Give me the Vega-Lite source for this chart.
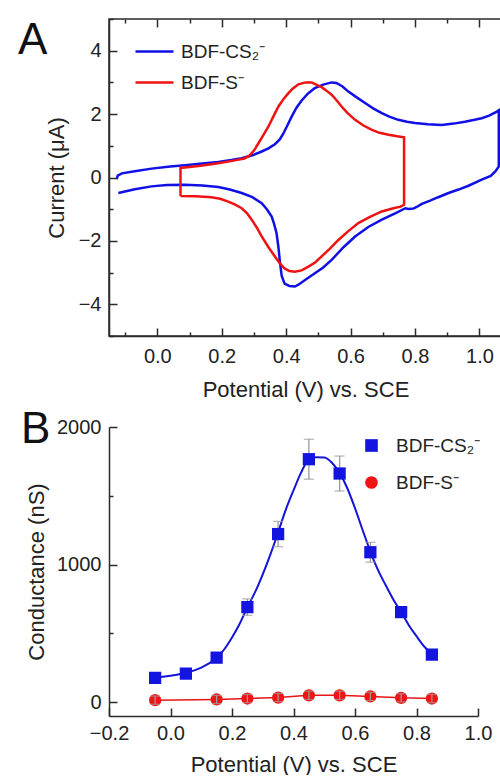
{
  "$schema": "https://vega.github.io/schema/vega-lite/v6.json",
  "background": "white",
  "padding": {"top": 8, "left": 17, "right": 0, "bottom": 0},
  "spacing": 7,
  "resolve": {"scale": {"color": "independent", "shape": "independent"}, "legend": {"color": "independent", "shape": "independent"}},
  "config": {
    "font": "Liberation Sans",
    "view": {"stroke": null},
    "axis": {
      "grid": false,
      "labelFont": "Liberation Sans", "labelFontSize": 20, "labelColor": "#222",
      "titleFont": "Liberation Sans", "titleFontSize": 22, "titleFontWeight": "normal", "titleColor": "#222",
      "domainColor": "#2b2b2b", "domainWidth": 1.5, "tickColor": "#2b2b2b", "tickWidth": 1.5,
      "labelFlush": false, "labelOverlap": false, "labelBound": false
    },
    "legend": {"labelFont": "Liberation Sans", "labelColor": "#222", "labelFontSize": 19}
  },
  "datasets": {
    "cv": [
      {"s":"BDF-CS₂⁻","i":0,"v":-0.126,"c":-0.05},{"s":"BDF-CS₂⁻","i":1,"v":-0.123,"c":0.06},{"s":"BDF-CS₂⁻","i":2,"v":-0.11,"c":0.13},{"s":"BDF-CS₂⁻","i":3,"v":-0.07,"c":0.2},{"s":"BDF-CS₂⁻","i":4,"v":-0.018,"c":0.28},{"s":"BDF-CS₂⁻","i":5,"v":0.04,"c":0.35},{"s":"BDF-CS₂⁻","i":6,"v":0.086,"c":0.39},{"s":"BDF-CS₂⁻","i":7,"v":0.14,"c":0.44},{"s":"BDF-CS₂⁻","i":8,"v":0.189,"c":0.49},{"s":"BDF-CS₂⁻","i":9,"v":0.23,"c":0.55},{"s":"BDF-CS₂⁻","i":10,"v":0.262,"c":0.61},{"s":"BDF-CS₂⁻","i":11,"v":0.295,"c":0.7},{"s":"BDF-CS₂⁻","i":12,"v":0.324,"c":0.82},{"s":"BDF-CS₂⁻","i":13,"v":0.345,"c":0.92},{"s":"BDF-CS₂⁻","i":14,"v":0.365,"c":1.05},{"s":"BDF-CS₂⁻","i":15,"v":0.38,"c":1.2},{"s":"BDF-CS₂⁻","i":16,"v":0.391,"c":1.38},{"s":"BDF-CS₂⁻","i":17,"v":0.404,"c":1.65},{"s":"BDF-CS₂⁻","i":18,"v":0.417,"c":1.92},{"s":"BDF-CS₂⁻","i":19,"v":0.432,"c":2.2},{"s":"BDF-CS₂⁻","i":20,"v":0.448,"c":2.43},{"s":"BDF-CS₂⁻","i":21,"v":0.468,"c":2.65},{"s":"BDF-CS₂⁻","i":22,"v":0.489,"c":2.82},{"s":"BDF-CS₂⁻","i":23,"v":0.515,"c":2.93},{"s":"BDF-CS₂⁻","i":24,"v":0.541,"c":3.0},{"s":"BDF-CS₂⁻","i":25,"v":0.556,"c":2.98},{"s":"BDF-CS₂⁻","i":26,"v":0.575,"c":2.87},{"s":"BDF-CS₂⁻","i":27,"v":0.593,"c":2.71},{"s":"BDF-CS₂⁻","i":28,"v":0.62,"c":2.52},{"s":"BDF-CS₂⁻","i":29,"v":0.645,"c":2.35},{"s":"BDF-CS₂⁻","i":30,"v":0.67,"c":2.18},{"s":"BDF-CS₂⁻","i":31,"v":0.697,"c":2.03},{"s":"BDF-CS₂⁻","i":32,"v":0.72,"c":1.92},{"s":"BDF-CS₂⁻","i":33,"v":0.748,"c":1.82},{"s":"BDF-CS₂⁻","i":34,"v":0.775,"c":1.76},{"s":"BDF-CS₂⁻","i":35,"v":0.8,"c":1.72},{"s":"BDF-CS₂⁻","i":36,"v":0.84,"c":1.68},{"s":"BDF-CS₂⁻","i":37,"v":0.883,"c":1.66},{"s":"BDF-CS₂⁻","i":38,"v":0.92,"c":1.7},{"s":"BDF-CS₂⁻","i":39,"v":0.955,"c":1.76},{"s":"BDF-CS₂⁻","i":40,"v":0.985,"c":1.82},{"s":"BDF-CS₂⁻","i":41,"v":1.007,"c":1.87},{"s":"BDF-CS₂⁻","i":42,"v":1.03,"c":1.95},{"s":"BDF-CS₂⁻","i":43,"v":1.054,"c":2.08},{"s":"BDF-CS₂⁻","i":44,"v":1.06,"c":2.12},{"s":"BDF-CS₂⁻","i":45,"v":1.06,"c":0.35},{"s":"BDF-CS₂⁻","i":46,"v":1.05,"c":0.2},{"s":"BDF-CS₂⁻","i":47,"v":1.035,"c":0.05},{"s":"BDF-CS₂⁻","i":48,"v":1.007,"c":-0.07},{"s":"BDF-CS₂⁻","i":49,"v":0.966,"c":-0.26},{"s":"BDF-CS₂⁻","i":50,"v":0.935,"c":-0.38},{"s":"BDF-CS₂⁻","i":51,"v":0.904,"c":-0.49},{"s":"BDF-CS₂⁻","i":52,"v":0.87,"c":-0.63},{"s":"BDF-CS₂⁻","i":53,"v":0.845,"c":-0.74},{"s":"BDF-CS₂⁻","i":54,"v":0.821,"c":-0.83},{"s":"BDF-CS₂⁻","i":55,"v":0.805,"c":-0.93},{"s":"BDF-CS₂⁻","i":56,"v":0.795,"c":-0.98},{"s":"BDF-CS₂⁻","i":57,"v":0.78,"c":-0.99},{"s":"BDF-CS₂⁻","i":58,"v":0.77,"c":-0.97},{"s":"BDF-CS₂⁻","i":59,"v":0.74,"c":-1.12},{"s":"BDF-CS₂⁻","i":60,"v":0.697,"c":-1.33},{"s":"BDF-CS₂⁻","i":61,"v":0.655,"c":-1.56},{"s":"BDF-CS₂⁻","i":62,"v":0.614,"c":-1.86},{"s":"BDF-CS₂⁻","i":63,"v":0.578,"c":-2.2},{"s":"BDF-CS₂⁻","i":64,"v":0.541,"c":-2.6},{"s":"BDF-CS₂⁻","i":65,"v":0.515,"c":-2.84},{"s":"BDF-CS₂⁻","i":66,"v":0.489,"c":-3.02},{"s":"BDF-CS₂⁻","i":67,"v":0.463,"c":-3.2},{"s":"BDF-CS₂⁻","i":68,"v":0.438,"c":-3.38},{"s":"BDF-CS₂⁻","i":69,"v":0.427,"c":-3.44},{"s":"BDF-CS₂⁻","i":70,"v":0.41,"c":-3.42},{"s":"BDF-CS₂⁻","i":71,"v":0.395,"c":-3.35},{"s":"BDF-CS₂⁻","i":72,"v":0.386,"c":-3.1},{"s":"BDF-CS₂⁻","i":73,"v":0.381,"c":-2.7},{"s":"BDF-CS₂⁻","i":74,"v":0.376,"c":-2.2},{"s":"BDF-CS₂⁻","i":75,"v":0.37,"c":-1.75},{"s":"BDF-CS₂⁻","i":76,"v":0.362,"c":-1.45},{"s":"BDF-CS₂⁻","i":77,"v":0.355,"c":-1.23},{"s":"BDF-CS₂⁻","i":78,"v":0.34,"c":-1.0},{"s":"BDF-CS₂⁻","i":79,"v":0.324,"c":-0.81},{"s":"BDF-CS₂⁻","i":80,"v":0.295,"c":-0.62},{"s":"BDF-CS₂⁻","i":81,"v":0.262,"c":-0.49},{"s":"BDF-CS₂⁻","i":82,"v":0.225,"c":-0.38},{"s":"BDF-CS₂⁻","i":83,"v":0.189,"c":-0.3},{"s":"BDF-CS₂⁻","i":84,"v":0.14,"c":-0.25},{"s":"BDF-CS₂⁻","i":85,"v":0.086,"c":-0.23},{"s":"BDF-CS₂⁻","i":86,"v":0.03,"c":-0.24},{"s":"BDF-CS₂⁻","i":87,"v":-0.018,"c":-0.28},{"s":"BDF-CS₂⁻","i":88,"v":-0.07,"c":-0.37},{"s":"BDF-CS₂⁻","i":89,"v":-0.121,"c":-0.49},
      {"s":"BDF-S⁻","i":0,"v":0.072,"c":-0.58},{"s":"BDF-S⁻","i":1,"v":0.072,"c":0.3},{"s":"BDF-S⁻","i":2,"v":0.1,"c":0.33},{"s":"BDF-S⁻","i":3,"v":0.134,"c":0.37},{"s":"BDF-S⁻","i":4,"v":0.189,"c":0.45},{"s":"BDF-S⁻","i":5,"v":0.241,"c":0.54},{"s":"BDF-S⁻","i":6,"v":0.27,"c":0.6},{"s":"BDF-S⁻","i":7,"v":0.285,"c":0.68},{"s":"BDF-S⁻","i":8,"v":0.3,"c":0.85},{"s":"BDF-S⁻","i":9,"v":0.314,"c":1.08},{"s":"BDF-S⁻","i":10,"v":0.33,"c":1.35},{"s":"BDF-S⁻","i":11,"v":0.345,"c":1.61},{"s":"BDF-S⁻","i":12,"v":0.36,"c":1.92},{"s":"BDF-S⁻","i":13,"v":0.376,"c":2.24},{"s":"BDF-S⁻","i":14,"v":0.392,"c":2.48},{"s":"BDF-S⁻","i":15,"v":0.407,"c":2.66},{"s":"BDF-S⁻","i":16,"v":0.42,"c":2.8},{"s":"BDF-S⁻","i":17,"v":0.438,"c":2.94},{"s":"BDF-S⁻","i":18,"v":0.46,"c":3.0},{"s":"BDF-S⁻","i":19,"v":0.479,"c":3.0},{"s":"BDF-S⁻","i":20,"v":0.495,"c":2.92},{"s":"BDF-S⁻","i":21,"v":0.51,"c":2.85},{"s":"BDF-S⁻","i":22,"v":0.525,"c":2.74},{"s":"BDF-S⁻","i":23,"v":0.541,"c":2.61},{"s":"BDF-S⁻","i":24,"v":0.557,"c":2.43},{"s":"BDF-S⁻","i":25,"v":0.572,"c":2.24},{"s":"BDF-S⁻","i":26,"v":0.59,"c":2.04},{"s":"BDF-S⁻","i":27,"v":0.614,"c":1.82},{"s":"BDF-S⁻","i":28,"v":0.64,"c":1.64},{"s":"BDF-S⁻","i":29,"v":0.666,"c":1.5},{"s":"BDF-S⁻","i":30,"v":0.69,"c":1.41},{"s":"BDF-S⁻","i":31,"v":0.718,"c":1.35},{"s":"BDF-S⁻","i":32,"v":0.745,"c":1.3},{"s":"BDF-S⁻","i":33,"v":0.766,"c":1.27},{"s":"BDF-S⁻","i":34,"v":0.766,"c":-0.86},{"s":"BDF-S⁻","i":35,"v":0.755,"c":-0.92},{"s":"BDF-S⁻","i":36,"v":0.73,"c":-0.98},{"s":"BDF-S⁻","i":37,"v":0.697,"c":-1.07},{"s":"BDF-S⁻","i":38,"v":0.66,"c":-1.24},{"s":"BDF-S⁻","i":39,"v":0.624,"c":-1.44},{"s":"BDF-S⁻","i":40,"v":0.592,"c":-1.7},{"s":"BDF-S⁻","i":41,"v":0.562,"c":-1.97},{"s":"BDF-S⁻","i":42,"v":0.535,"c":-2.25},{"s":"BDF-S⁻","i":43,"v":0.51,"c":-2.49},{"s":"BDF-S⁻","i":44,"v":0.49,"c":-2.68},{"s":"BDF-S⁻","i":45,"v":0.469,"c":-2.81},{"s":"BDF-S⁻","i":46,"v":0.448,"c":-2.93},{"s":"BDF-S⁻","i":47,"v":0.427,"c":-2.97},{"s":"BDF-S⁻","i":48,"v":0.41,"c":-2.95},{"s":"BDF-S⁻","i":49,"v":0.395,"c":-2.87},{"s":"BDF-S⁻","i":50,"v":0.38,"c":-2.7},{"s":"BDF-S⁻","i":51,"v":0.365,"c":-2.49},{"s":"BDF-S⁻","i":52,"v":0.345,"c":-2.2},{"s":"BDF-S⁻","i":53,"v":0.324,"c":-1.86},{"s":"BDF-S⁻","i":54,"v":0.31,"c":-1.6},{"s":"BDF-S⁻","i":55,"v":0.293,"c":-1.33},{"s":"BDF-S⁻","i":56,"v":0.278,"c":-1.12},{"s":"BDF-S⁻","i":57,"v":0.262,"c":-0.97},{"s":"BDF-S⁻","i":58,"v":0.24,"c":-0.85},{"s":"BDF-S⁻","i":59,"v":0.22,"c":-0.76},{"s":"BDF-S⁻","i":60,"v":0.195,"c":-0.67},{"s":"BDF-S⁻","i":61,"v":0.168,"c":-0.62},{"s":"BDF-S⁻","i":62,"v":0.12,"c":-0.59},{"s":"BDF-S⁻","i":63,"v":0.072,"c":-0.58}
    ],
    "pts": [
      {"s":"BDF-CS₂⁻","x":-0.05,"y":177,"e":25},{"s":"BDF-CS₂⁻","x":0.05,"y":208,"e":25},{"s":"BDF-CS₂⁻","x":0.15,"y":324,"e":35},{"s":"BDF-CS₂⁻","x":0.25,"y":691,"e":60},{"s":"BDF-CS₂⁻","x":0.35,"y":1222,"e":92},{"s":"BDF-CS₂⁻","x":0.45,"y":1766,"e":145},{"s":"BDF-CS₂⁻","x":0.55,"y":1662,"e":127},{"s":"BDF-CS₂⁻","x":0.65,"y":1090,"e":72},{"s":"BDF-CS₂⁻","x":0.75,"y":655,"e":35},{"s":"BDF-CS₂⁻","x":0.85,"y":346,"e":25},
      {"s":"BDF-S⁻","x":-0.05,"y":15,"e":30},{"s":"BDF-S⁻","x":0.15,"y":20,"e":30},{"s":"BDF-S⁻","x":0.25,"y":27,"e":30},{"s":"BDF-S⁻","x":0.35,"y":34,"e":30},{"s":"BDF-S⁻","x":0.45,"y":50,"e":30},{"s":"BDF-S⁻","x":0.55,"y":50,"e":30},{"s":"BDF-S⁻","x":0.65,"y":42,"e":30},{"s":"BDF-S⁻","x":0.75,"y":32,"e":30},{"s":"BDF-S⁻","x":0.85,"y":27,"e":30}
    ],
    "fit": [
      {"x":-0.05,"y":178},{"x":-0.025,"y":185},{"x":0.0,"y":193},{"x":0.025,"y":202},{"x":0.05,"y":214},{"x":0.075,"y":230},{"x":0.1,"y":252},{"x":0.125,"y":282},{"x":0.15,"y":322},{"x":0.175,"y":385},{"x":0.2,"y":470},{"x":0.225,"y":570},{"x":0.25,"y":690},{"x":0.275,"y":800},{"x":0.3,"y":930},{"x":0.325,"y":1075},{"x":0.35,"y":1235},{"x":0.375,"y":1400},{"x":0.4,"y":1540},{"x":0.425,"y":1670},{"x":0.45,"y":1765},{"x":0.475,"y":1780},{"x":0.5,"y":1778},{"x":0.525,"y":1740},{"x":0.55,"y":1665},{"x":0.575,"y":1555},{"x":0.6,"y":1410},{"x":0.625,"y":1250},{"x":0.65,"y":1095},{"x":0.675,"y":960},{"x":0.7,"y":850},{"x":0.725,"y":745},{"x":0.75,"y":655},{"x":0.775,"y":560},{"x":0.8,"y":480},{"x":0.825,"y":405},{"x":0.85,"y":350}
    ]
  },
  "vconcat": [
    {
      "width": 393,
      "height": 317,
      "view": {"stroke": "#2b2b2b", "strokeWidth": 1.5},
      "title": {"text": "A", "anchor": "start", "frame": "group", "orient": "top", "fontSize": 44, "fontWeight": "normal", "font": "Liberation Sans", "color": "#111", "baseline": "alphabetic", "offset": -53, "dx": -91, "dy": 36},
      "data": {"name": "cv"},
      "layer": [
        {
          "mark": {"type": "line", "strokeWidth": 2.5},
          "encoding": {
            "x": {"field": "v", "type": "quantitative", "title": "Potential (V) vs. SCE", "scale": {"domain": [-0.15, 1.07], "nice": false, "zero": false},
              "axis": {"orient": "bottom", "values": [-0.1,0,0.1,0.2,0.3,0.4,0.5,0.6,0.7,0.8,0.9,1.0],
                "labelExpr": "round(datum.value*10) % 2 == 0 ? format(datum.value, '.1f') : ''",
                "tickSize": {"condition": {"test": "round(datum.value*10) % 2 == 0", "value": -8}, "value": -4},
                "labelPadding": 18, "titlePadding": 9}},
            "y": {"field": "c", "type": "quantitative", "title": "Current (μA)", "scale": {"domain": [-5, 5], "nice": false},
              "axis": {"values": [-5,-4,-3,-2,-1,0,1,2,3,4,5],
                "labelExpr": "datum.value % 2 == 0 ? format(datum.value, 'd') : ''",
                "tickSize": {"condition": {"test": "datum.value % 2 == 0", "value": -8}, "value": -4},
                "labelPadding": 16, "titlePadding": 10}},
            "color": {"field": "s", "type": "nominal", "scale": {"domain": ["BDF-CS₂⁻", "BDF-S⁻"], "range": ["#1010e6", "#f01212"]},
              "legend": {"orient": "none", "legendX": 25, "legendY": 12, "title": null, "symbolType": "stroke", "symbolSize": 1444, "symbolStrokeWidth": 2.5, "labelFontSize": 19, "rowPadding": -2, "labelOffset": 6, "padding": 0}},
            "order": {"field": "i", "type": "quantitative"}
          }
        },
        {
          "mark": {"type": "point", "opacity": 0},
          "encoding": {
            "x": {"field": "v", "type": "quantitative", "scale": {"domain": [-0.15, 1.07], "nice": false, "zero": false},
              "axis": {"orient": "top", "title": null, "labels": false, "domain": false, "values": [-0.1,0,0.1,0.2,0.3,0.4,0.5,0.6,0.7,0.8,0.9,1.0],
                "tickSize": {"condition": {"test": "round(datum.value*10) % 2 == 0", "value": -8}, "value": -4}}},
            "y": {"field": "c", "type": "quantitative", "scale": {"domain": [-5, 5], "nice": false}, "axis": null}
          }
        }
      ],
      "resolve": {"axis": {"x": "independent", "y": "independent"}}
    },
    {
      "width": 369,
      "height": 289,
      "title": {"text": "B", "anchor": "start", "frame": "group", "orient": "top", "fontSize": 44, "fontWeight": "normal", "font": "Liberation Sans", "color": "#111", "baseline": "alphabetic", "offset": -45, "dx": -88, "dy": 25},
      "layer": [
        {
          "data": {"name": "fit"},
          "mark": {"type": "line", "color": "#1414d8", "strokeWidth": 2, "interpolate": "monotone"},
          "encoding": {
            "x": {"field": "x", "type": "quantitative", "title": "Potential (V) vs. SCE", "scale": {"domain": [-0.2, 1.0], "nice": false, "zero": false},
              "axis": {"values": [-0.2,-0.1,0,0.1,0.2,0.3,0.4,0.5,0.6,0.7,0.8,0.9,1.0],
                "labelExpr": "round(datum.value*10) % 2 == 0 ? format(datum.value, '.1f') : ''",
                "tickSize": {"condition": {"test": "round(datum.value*10) % 2 == 0", "value": -8}, "value": -4},
                "labelPadding": 15, "titlePadding": 11}},
            "y": {"field": "y", "type": "quantitative", "title": "Conductance (nS)", "scale": {"domain": [-100, 2000], "nice": false, "zero": false},
              "axis": {"values": [0, 500, 1000, 1500, 2000],
                "labelExpr": "datum.value % 1000 == 0 ? format(datum.value, 'd') : ''",
                "tickSize": {"condition": {"test": "datum.value % 1000 == 0", "value": -8}, "value": -4},
                "labelPadding": 16, "titlePadding": 8}}
          }
        },
        {
          "data": {"name": "pts"},
          "transform": [{"filter": "datum.s == 'BDF-S⁻'"}],
          "mark": {"type": "line", "color": "#e81515", "strokeWidth": 1.5},
          "encoding": {
            "x": {"field": "x", "type": "quantitative", "title": "Potential (V) vs. SCE", "scale": {"domain": [-0.2, 1.0], "nice": false, "zero": false}},
            "y": {"field": "y", "type": "quantitative", "title": "Conductance (nS)", "scale": {"domain": [-100, 2000], "nice": false, "zero": false}}
          }
        },
        {
          "data": {"name": "pts"},
          "transform": [{"filter": "datum.s == 'BDF-CS₂⁻'"}],
          "mark": {"type": "errorbar", "ticks": {"size": 10}, "color": "#9a9a9a", "thickness": 1.3},
          "encoding": {
            "x": {"field": "x", "type": "quantitative", "title": "Potential (V) vs. SCE", "scale": {"domain": [-0.2, 1.0], "nice": false, "zero": false}},
            "y": {"field": "y", "type": "quantitative", "title": "Conductance (nS)", "scale": {"domain": [-100, 2000], "nice": false, "zero": false}},
            "yError": {"field": "e"}
          }
        },
        {
          "data": {"name": "pts"},
          "mark": {"type": "point", "filled": true, "opacity": 1, "size": 150},
          "encoding": {
            "x": {"field": "x", "type": "quantitative", "title": "Potential (V) vs. SCE", "scale": {"domain": [-0.2, 1.0], "nice": false, "zero": false}},
            "y": {"field": "y", "type": "quantitative", "title": "Conductance (nS)", "scale": {"domain": [-100, 2000], "nice": false, "zero": false}},
            "color": {"field": "s", "type": "nominal", "scale": {"domain": ["BDF-CS₂⁻", "BDF-S⁻"], "range": ["#1414e0", "#f01414"]},
              "legend": {"orient": "none", "legendX": 253, "legendY": 9, "title": null, "symbolSize": 160, "labelFontSize": 19, "rowPadding": 17, "labelOffset": 15, "padding": 0}},
            "shape": {"field": "s", "type": "nominal", "scale": {"domain": ["BDF-CS₂⁻", "BDF-S⁻"], "range": ["square", "circle"]},
              "legend": {"orient": "none", "legendX": 253, "legendY": 9, "title": null, "symbolSize": 160, "labelFontSize": 19, "rowPadding": 17, "labelOffset": 15, "padding": 0}}
          }
        },
        {
          "data": {"name": "pts"},
          "transform": [{"filter": "datum.s == 'BDF-S⁻'"}],
          "mark": {"type": "errorbar", "ticks": {"size": 10}, "color": "#a0a0a0", "thickness": 1.2},
          "encoding": {
            "x": {"field": "x", "type": "quantitative", "title": "Potential (V) vs. SCE", "scale": {"domain": [-0.2, 1.0], "nice": false, "zero": false}},
            "y": {"field": "y", "type": "quantitative", "title": "Conductance (nS)", "scale": {"domain": [-100, 2000], "nice": false, "zero": false}},
            "yError": {"field": "e"}
          }
        }
      ]
    }
  ]
}
